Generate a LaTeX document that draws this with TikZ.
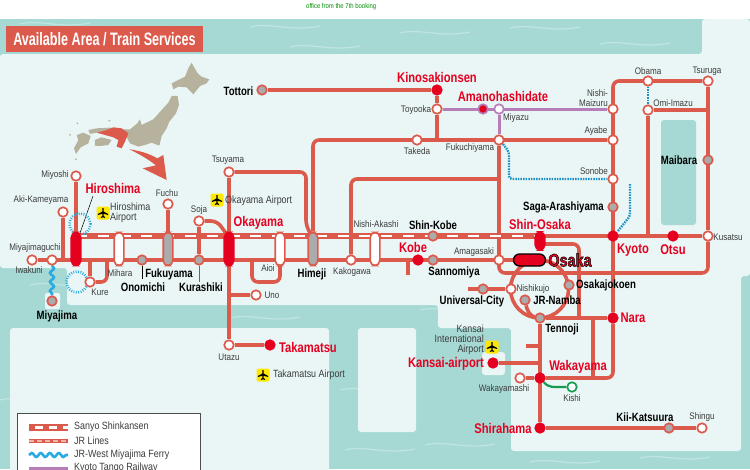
\documentclass[tikz,border=0pt]{standalone}
\usepackage{fontspec}
\setmainfont{Liberation Sans}
\newfontfamily\hubfont[FakeStretch=0.8]{Liberation Sans}
\newfontfamily\stnfont[FakeStretch=0.85]{Liberation Sans}
\newfontfamily\titlefont[FakeStretch=0.7]{Liberation Sans}
\usetikzlibrary{decorations.pathmorphing}
\definecolor{searail}{HTML}{DC5A4C}
\definecolor{hubred}{HTML}{E60020}
\definecolor{seateal}{HTML}{A6D9D4}
\definecolor{landpale}{HTML}{E9F6F5}
\definecolor{stngrey}{HTML}{ABABAB}
\definecolor{tangorail}{HTML}{B67DB8}
\definecolor{dotblue}{HTML}{1E8FC6}
\definecolor{ferryblue}{HTML}{29ABE2}
\definecolor{kishigreen}{HTML}{169C52}
\definecolor{maptan}{HTML}{B7B29E}
\definecolor{labelgrey}{HTML}{3C3C3C}
\pgfdeclarelayer{maplayer}
\pgfdeclarelayer{raillayer}
\pgfsetlayers{maplayer,raillayer,main}
\newcommand{\outlinedtext}[1]{\special{pdf:code 2 Tr 0.45 w 0 0 0 RG}#1\special{pdf:code 0 Tr 0 G}}
\tikzset{
  jrline/.style={draw=searail,line width=3.6pt},
  bendline/.style={jrline,rounded corners=6pt},
  tangoline/.style={draw=tangorail,line width=3pt},
  shinkband/.style={draw=searail,line width=5.6pt},
  shinkdash/.style={draw=white,line width=2.8pt,dash pattern=on 11pt off 10.8pt},
  jrdash/.style={draw=white,opacity=.55,line width=1.6pt,dash pattern=on 5pt off 3pt},
  dotline/.style={draw=dotblue,line width=2.4pt,dash pattern=on 1.5pt off 1.1pt,rounded corners=3pt},
  ferryline/.style={draw=ferryblue,line width=2.6pt,decorate,decoration={snake,segment length=9pt,amplitude=2pt}},
  thinline/.style={draw=#1,line width=.5pt},
  stnwhite/.style={circle,draw=searail,line width=1.7pt,fill=white,minimum size=9.5pt,inner sep=0pt},
  stngray/.style={stnwhite,fill=stngrey},
  stnred/.style={stnwhite,fill=hubred,draw=hubred},
  pillwhite/.style={rectangle,rounded corners=5pt,draw=searail,line width=1.6pt,fill=white,minimum width=9.6pt,minimum height=33pt,inner sep=0pt},
  pillgray/.style={pillwhite,fill=stngrey},
  pillred/.style={pillwhite,fill=hubred,draw=hubred},
  ringdots/.style={circle,draw=ferryblue,line width=2.6pt,dash pattern=on .9pt off 1.5pt,minimum size=21pt,inner sep=0pt},
  lblred/.style={inner sep=0pt,text=hubred,font=\hubfont\bfseries\fontsize{14}{14}\selectfont},
  lblhub/.style={inner sep=0pt,text=black,font=\hubfont\bfseries\fontsize{12}{12}\selectfont},
  lblstn/.style={inner sep=0pt,text=labelgrey,align=center,font=\stnfont\fontsize{9.5}{9.8}\selectfont},
  lblair/.style={inner sep=0pt,text=labelgrey,font=\stnfont\fontsize{10.5}{10}\selectfont},
  airbox/.style={rectangle,rounded corners=2pt,fill=yellow!90!orange,minimum size=13pt,inner sep=0pt},
  legendtext/.style={inner sep=0pt,anchor=west,text=labelgrey,font=\stnfont\fontsize{10.5}{10}\selectfont},
  wisp/.style={draw=white,opacity=.3,line width=1.2pt},
  jetplane/.pic={
    \fill[black] (-.6,-5) -- (.6,-5) -- (.6,-1.5) -- (5.2,1) -- (5.2,2) -- (.6,.8) -- (.6,3) -- (2.2,4.2) -- (2.2,5)
      -- (0,4.3) -- (-2.2,5) -- (-2.2,4.2) -- (-.6,3) -- (-.6,.8) -- (-5.2,2) -- (-5.2,1) -- (-.6,-1.5) -- cycle;
  },
}
\begin{document}
\begin{tikzpicture}[x=1pt,y=-1pt]
\useasboundingbox (0,0) rectangle (750,469);

% sea, land and the small map
\begin{pgfonlayer}{maplayer}
\fill[white] (0,0) rectangle (750,469);
\fill[seateal] (0,19) rectangle (750,469);
\foreach \wx/\wy in {20/24,130/30,250/27,400/33,510/28,600/44,290/47,30/285,110/296,230/318,330/300,420/310,10/350,340/390,345/450,425/445,530/462,640/458,0/400,480/320} {
  \draw[wisp] (\wx,\wy) .. controls (\wx+20,\wy-5) and (\wx+40,\wy+5) .. (\wx+70,\wy-1);
}
\fill[landpale,rounded corners=3pt] (0,54) -- (702,54) -- (702,19) -- (750,19) -- (750,276) -- (741,276) -- (741,451)
  -- (511,451) -- (511,328) -- (438,328) -- (438,305) -- (67,305) -- (67,268) -- (0,268) -- cycle;
\fill[landpale,rounded corners=3pt] (10,328) rectangle (329,480);
\fill[landpale,rounded corners=3pt] (358,328) rectangle (416,432);
\fill[landpale,rounded corners=3pt] (482,352) rectangle (505,375);
\fill[landpale,rounded corners=2pt] (45,293) rectangle (60,309);
\fill[seateal,rounded corners=3pt] (661,120) rectangle (696,225);
\begin{scope}[shift={(50,60)},x=.3333pt,y=-.3333pt]
\fill[maptan] (425,8) -- (437,30) -- (445,42) -- (455,50) -- (478,58) -- (470,70) -- (450,78) -- (430,103) -- (410,82) -- (385,80) -- (370,88) -- (365,70) -- (385,60) -- (405,50) -- (415,25) -- cycle;
\fill[maptan] (383,108) -- (387,135) -- (378,160) -- (358,185) -- (350,205) -- (335,228) -- (328,257) -- (305,248) -- (285,255) -- (265,260) -- (240,250) -- (232,235) -- (215,212) -- (180,208) -- (140,218) -- (120,222) -- (115,210) -- (140,205) -- (180,203) -- (215,208) -- (240,208) -- (262,190) -- (270,178) -- (275,195) -- (310,178) -- (335,150) -- (355,128) -- (365,108) -- cycle;
\fill[maptan] (135,240) -- (155,232) -- (185,240) -- (175,255) -- (150,258) -- (135,258) -- cycle;
\fill[maptan] (80,225) -- (100,218) -- (122,228) -- (115,250) -- (92,262) -- (78,282) -- (72,265) -- (85,240) -- cycle;
\foreach \ix/\iy in {178/182,82/190,60/225,78/298} {
  \fill[maptan] (\ix,\iy) circle [radius=3];
}
\fill[searail] (140,218) -- (170,210) -- (190,202) -- (215,205) -- (235,220) -- (225,245) -- (215,265) -- (200,260) -- (205,240) -- (190,232) -- (165,225) -- cycle;
\fill[searail] (238,268) .. controls (270,272) and (300,282) .. (322,295) -- (340,285) -- (350,360) -- (278,325) -- (318,316) .. controls (295,298) and (268,282) .. cycle;
\end{scope}
\end{pgfonlayer}

\node[inner sep=0pt,anchor=west,text=green!55!black,font=\stnfont\fontsize{7}{7}\selectfont] (booknote) at (306,7) {office from the 7th booking};
\node[rectangle,fill=searail,minimum width=197pt,minimum height=26pt,inner sep=0pt,text=white,font=\titlefont\bfseries\fontsize{18}{18}\selectfont] (titlebox) at (104.5,39) {Available Area / Train Services};

% stations
\node[stnwhite] (iwakuni) at (32,260) {};
\node[stnwhite] (miyaguchi) at (52,260) {};
\node[stngray] (miyajima) at (52,301) {};
\node[stnwhite] (akikame) at (63,212) {};
\node[stnwhite] (miyoshi) at (76,176) {};
\node[pillred] (hiroshima) at (76,249) {};
\node[stnwhite] (kure) at (90,282) {};
\node[pillwhite] (mihara) at (119,249) {};
\node[stngray] (onomichi) at (142,260) {};
\node[pillgray] (fukuyama) at (168,249) {};
\node[stnwhite] (fuchu) at (168,204) {};
\node[stngray] (kurashiki) at (199,260) {};
\node[stnwhite] (soja) at (199,221) {};
\node[pillred] (okayama) at (229,249) {};
\node[stnwhite] (tsuyama) at (229,172) {};
\node[stnwhite] (uno) at (256,295) {};
\node[stnwhite] (utazu) at (229,345) {};
\node[stnred] (takamatsu) at (270,345) {};
\node[pillwhite] (aioi) at (280,249) {};
\node[pillgray] (himeji) at (313,249) {};
\node[stngray] (tottori) at (262,90) {};
\node[stnwhite] (kakogawa) at (351,260) {};
\node[pillwhite] (nishiakashi) at (375,249) {};
\node[stnred] (kobe) at (418,260) {};
\node[stngray] (sannomiya) at (433,260) {};
\node[stngray] (shinkobe) at (433,236) {};
\node[stnwhite] (amagasaki) at (499,260) {};
\node[stnred] (kinosaki) at (437,90) {};
\node[stnwhite] (toyooka) at (437,109) {};
\node[stnwhite] (takeda) at (417,140) {};
\node[stnred,draw=tangorail] (amanohashi) at (483,109) {};
\node[stnwhite,draw=tangorail] (miyazu) at (499,109) {};
\node[stnwhite] (fukuchiyama) at (499,140) {};
\node[stnwhite] (nishimaizuru) at (613,109) {};
\node[stnwhite] (ayabe) at (613,140) {};
\node[stnwhite] (sonobe) at (613,179) {};
\node[stngray] (saga) at (613,207) {};
\node[stnred] (kyoto) at (613,236) {};
\node[stnred] (otsu) at (673,236) {};
\node[stnwhite] (kusatsu) at (708,236) {};
\node[stngray] (maibara) at (708,160) {};
\node[stnwhite] (obama) at (648,81) {};
\node[stnwhite] (tsuruga) at (708,81) {};
\node[stnwhite] (omiimazu) at (648,110) {};
\node[pillred,minimum height=18pt] (shinosaka) at (540,241) {};
\node[rectangle,rounded corners=6pt,draw=black,line width=1.3pt,fill=hubred,minimum width=32pt,minimum height=12pt,inner sep=0pt] (osaka) at (529.5,260) {};
\node[stnwhite] (nishikujo) at (511,289) {};
\node[stngray] (unicity) at (483,289) {};
\node[stngray] (jrnamba) at (525,300) {};
\node[stngray] (osakajokoen) at (569,285) {};
\node[stngray] (tennoji) at (540,318) {};
\node[stnred] (nara) at (613,318) {};
\node[stnred] (kansaiair) at (493,363) {};
\node[stnred] (wakayama) at (540,378) {};
\node[stnwhite] (wakayamashi) at (520,378) {};
\node[stnwhite,draw=kishigreen] (kishi) at (572,387) {};
\node[stnred] (shirahama) at (540,428) {};
\node[stngray] (kiikatsuura) at (669,428) {};
\node[stnwhite] (shingu) at (702,428) {};

% free ends of the lines
\coordinate (sanyow) at (76,236);
\coordinate (sanyoe) at (540,236);
\coordinate (tsuyamaa) at (306,172);
\coordinate (tsuyamab) at (306,226);
\coordinate (tsuyamac) at (312,236);
\coordinate (sojaa) at (217,221);
\coordinate (sojab) at (228,236);
\coordinate (aioia) at (252,260);
\coordinate (aioib) at (252,282);
\coordinate (aioic) at (280,282);
\coordinate (aioid) at (280,260);
\coordinate (kurea) at (107,282);
\coordinate (kureb) at (107,260);
\coordinate (kobestub) at (408,275);
\coordinate (loopa) at (708,273);
\coordinate (jotoa) at (540,244);
\coordinate (jotob) at (579,244);
\coordinate (jotoc) at (579,318);
\coordinate (loopc) at (539.5,289);
\coordinate (ucwest) at (468,289);
\coordinate (sparea) at (526,346);
\coordinate (spura) at (593,318);
\coordinate (spurb) at (593,378);
\coordinate (hirotick) at (93,196);
\coordinate (hirotickb) at (79,236);
\coordinate (onotick) at (142,279);
\coordinate (kuratick) at (199,282);
\coordinate (dota) at (503,144);
\coordinate (dotb) at (509,152);
\coordinate (dotc) at (509,179);
\coordinate (dotd) at (618,231);
\coordinate (dote) at (630,216);
\coordinate (dotf) at (630,184);

% lines
\begin{pgfonlayer}{raillayer}
\draw[jrline] (iwakuni) -- (osaka);
\draw[jrline] (akikame) -- (akikame |- iwakuni);
\draw[jrline] (miyoshi) -- (hiroshima);
\draw[jrline] (fuchu) -- (fukuyama);
\draw[jrline] (soja) -- (kurashiki);
\draw[bendline] (soja) -- (sojaa) -- (sojab);
\draw[jrline] (tsuyama) -- (okayama);
\draw[jrline] (okayama) -- (utazu);
\draw[jrline] (utazu) -- (takamatsu);
\draw[jrline] (uno) -- (uno -| okayama);
\draw[bendline] (tsuyama) -- (tsuyamaa) -- (tsuyamab) -- (tsuyamac);
\draw[bendline] (aioia) -- (aioib) -- (aioic) -- (aioid);
\draw[bendline] (kure) -- (kure |- iwakuni);
\draw[bendline] (kure) -- (kurea) -- (kureb);
\draw[jrline] (kobestub) -- (kobestub |- kobe);
\draw[jrline] (tottori) -- (kinosaki);
\draw[jrline] (kinosaki) -- (toyooka) -- (toyooka |- ayabe);
\draw[bendline] (ayabe) -| (himeji);
\draw[bendline] (kakogawa) |- (fukuchiyama |- sonobe);
\draw[bendline] (fukuchiyama) |- (loopa) -- (kusatsu);
\draw[jrline] (sanyoe) -- (kusatsu);
\draw[jrline] (kusatsu) -- (tsuruga);
\draw[bendline] (tsuruga) -| (nara);
\draw[bendline] (nara) |- (wakayama);
\draw[jrline] (omiimazu) -- (omiimazu -| tsuruga);
\draw[jrline] (omiimazu) -- (omiimazu |- otsu);
\draw[bendline] (jotoa) -- (jotob) -- (jotoc);
\draw[jrline] (loopc) circle [radius=29pt];
\draw[jrline] (ucwest) -- (nishikujo);
\draw[jrline] (jrnamba) .. controls (527,310) and (530,316) .. (tennoji);
\draw[jrline] (tennoji) -- (nara);
\draw[jrline] (tennoji) -- (shirahama);
\draw[jrline] (shirahama) -- (shingu);
\draw[jrline] (kansaiair) -- (kansaiair -| wakayama);
\draw[jrline] (sparea) -- (sparea -| wakayama);
\draw[jrline] (wakayamashi) -- (wakayama);
\draw[jrline] (spura) -- (spurb);
\draw[shinkband] (sanyow) -- (sanyoe);
\draw[shinkdash] (sanyow) -- (sanyoe);
\draw[tangoline] (toyooka) -- (nishimaizuru);
\draw[tangoline] (miyazu) -- (fukuchiyama);
\draw[draw=kishigreen,line width=2.2pt] (wakayama) .. controls (549,388) and (552,387) .. (kishi);
\draw[dotline] (dota) -- (dotb) -- (dotc) -- (sonobe);
\draw[dotline] (dotd) -- (dote) -- (dotf);
\draw[dotline] (obama) -- (omiimazu);
\draw[ferryline] (miyaguchi) -- (miyajima);
\draw[thinline=black] (hirotick) -- (hirotickb);
\draw[thinline=black] (onomichi) -- (onotick);
\draw[thinline=black!60] (kurashiki) -- (kuratick);
\node[ringdots] (hirobay) at (80,224) {};
\node[ringdots] (kurebay) at (77,282) {};
\end{pgfonlayer}

% airports
\node[airbox] (hiroair) at (103,213) {};
\pic at (hiroair) {jetplane};
\node[airbox] (okaair) at (217,200) {};
\pic at (okaair) {jetplane};
\node[airbox] (takaair) at (263,375) {};
\pic at (takaair) {jetplane};
\node[airbox] (kixair) at (492,347) {};
\pic at (kixair) {jetplane};

% labels
\node[lblred] (lhiroshima) at (113,188) {Hiroshima};
\node[lblred] (lokayama) at (258.5,223) {Okayama};
\node[lblred] (lkinosaki) at (437,77) {Kinosakionsen};
\node[lblred] (lamano) at (503,96) {Amanohashidate};
\node[lblred] (lshinosaka) at (540,224) {Shin-Osaka};
\node[lblred] (lkyoto) at (633,250) {Kyoto};
\node[lblred] (lotsu) at (673,250) {Otsu};
\node[lblred] (lkobe) at (413,247) {Kobe};
\node[lblred] (lnara) at (633,318) {Nara};
\node[lblred] (lkansai) at (446,364) {Kansai-airport};
\node[lblred] (lwakayama) at (578,367) {Wakayama};
\node[lblred] (lshirahama) at (503,428) {Shirahama};
\node[lblred] (ltakamatsu) at (308,347) {Takamatsu};
\node[lblred,font=\hubfont\bfseries\fontsize{18}{18}\selectfont] (losaka) at (570,260) {\outlinedtext{Osaka}};
\node[lblhub] (ltottori) at (238.5,91) {Tottori};
\node[lblhub] (lshinkobe) at (433,225) {Shin-Kobe};
\node[lblhub,anchor=east] (lsaga) at (604,207.5) {Saga-Arashiyama};
\node[lblhub] (lmaibara) at (679,160) {Maibara};
\node[lblhub] (lsannomiya) at (454,272) {Sannomiya};
\node[lblhub] (losakajokoen) at (606,285) {Osakajokoen};
\node[lblhub] (ljrnamba) at (557,300) {JR-Namba};
\node[lblhub] (lunicity) at (472,301) {Universal-City};
\node[lblhub] (ltennoji) at (562,329) {Tennoji};
\node[lblhub] (lkii) at (645,417) {Kii-Katsuura};
\node[lblhub] (lmiyajima) at (57,316) {Miyajima};
\node[lblhub] (lonomichi) at (143,287) {Onomichi};
\node[lblhub] (lfukuyama) at (169,274) {Fukuyama};
\node[lblhub] (lkurashiki) at (201,287) {Kurashiki};
\node[lblhub] (lhimeji) at (312,274) {Himeji};
\node[lblstn] (lmiyoshi) at (55,175) {Miyoshi};
\node[lblstn] (lakikame) at (41,200) {Aki-Kameyama};
\node[lblstn] (lmiyaguchi) at (35,248) {Miyajimaguchi};
\node[lblstn] (liwakuni) at (29,270) {Iwakuni};
\node[lblstn] (lkure) at (100,292) {Kure};
\node[lblstn] (lmihara) at (120,273) {Mihara};
\node[lblstn] (lfuchu) at (167,193) {Fuchu};
\node[lblstn] (lsoja) at (199,210) {Soja};
\node[lblstn] (ltsuyama) at (228,160) {Tsuyama};
\node[lblstn] (laioi) at (268,268) {Aioi};
\node[lblstn] (luno) at (272,295) {Uno};
\node[lblstn] (lutazu) at (229,357) {Utazu};
\node[lblstn] (lkakogawa) at (352,272) {Kakogawa};
\node[lblstn] (lnishiakashi) at (376,224) {Nishi-Akashi};
\node[lblstn] (lamagasaki) at (474,252) {Amagasaki};
\node[lblstn] (ltoyooka) at (416,110) {Toyooka};
\node[lblstn] (ltakeda) at (417,151) {Takeda};
\node[lblstn] (lfukuchiyama) at (470,148) {Fukuchiyama};
\node[lblstn] (lmiyazu) at (516,118) {Miyazu};
\node[lblstn,align=right,anchor=east] (lmaizuru) at (608,98) {Nishi-\\Maizuru};
\node[lblstn] (layabe) at (596,131) {Ayabe};
\node[lblstn] (lsonobe) at (594,171) {Sonobe};
\node[lblstn] (lobama) at (648,71) {Obama};
\node[lblstn] (ltsuruga) at (707,71) {Tsuruga};
\node[lblstn] (lomi) at (673,103) {Omi-Imazu};
\node[lblstn] (lkusatsu) at (728,237) {Kusatsu};
\node[lblstn] (lnishikujo) at (533,289) {Nishikujo};
\node[lblstn] (lwakayamashi) at (504,389) {Wakayamashi};
\node[lblstn] (lkishi) at (572,398) {Kishi};
\node[lblstn] (lshingu) at (702,417) {Shingu};
\node[lblair,align=right,anchor=east] (lkansaiport) at (484,339.5) {Kansai\\International\\Airport};
\node[lblair,align=left,anchor=west] (lhiroport) at (110,213) {Hiroshima\\Airport};
\node[lblair,anchor=west] (lokaport) at (225,201) {Okayama Airport};
\node[lblair] (ltakaport) at (309,375) {Takamatsu Airport};

% legend
\node[rectangle,draw=black!70,line width=.7pt,fill=white,minimum width=183pt,minimum height=70pt,inner sep=0pt,anchor=north west] (legendbox) at (17,413) {};
\coordinate (keysanyoa) at (29,427);
\coordinate (keysanyob) at (68,427);
\coordinate (keyjra) at (29,441);
\coordinate (keyjrb) at (68,441);
\coordinate (keyferrya) at (29,455);
\coordinate (keyferryb) at (68,455);
\coordinate (keytangoa) at (29,468);
\coordinate (keytangob) at (68,468);
\draw[draw=searail,line width=7pt] (keysanyoa) -- (keysanyob);
\draw[draw=white,line width=3pt,dash pattern=on 8pt off 6pt,dash phase=-6pt] (keysanyoa) -- (keysanyob);
\draw[jrline,line width=4pt] (keyjra) -- (keyjrb);
\draw[jrdash] (keyjra) -- (keyjrb);
\draw[ferryline,line width=2.6pt] (keyferrya) -- (keyferryb);
\draw[tangoline] (keytangoa) -- (keytangob);
\node[legendtext] (lsanyo) at (74,427) {Sanyo Shinkansen};
\node[legendtext] (ljrlines) at (74,441) {JR Lines};
\node[legendtext] (lferry) at (74,455) {JR-West Miyajima Ferry};
\node[legendtext] (ltango) at (74,468) {Kyoto Tango Railway};
\end{tikzpicture}
\end{document}
